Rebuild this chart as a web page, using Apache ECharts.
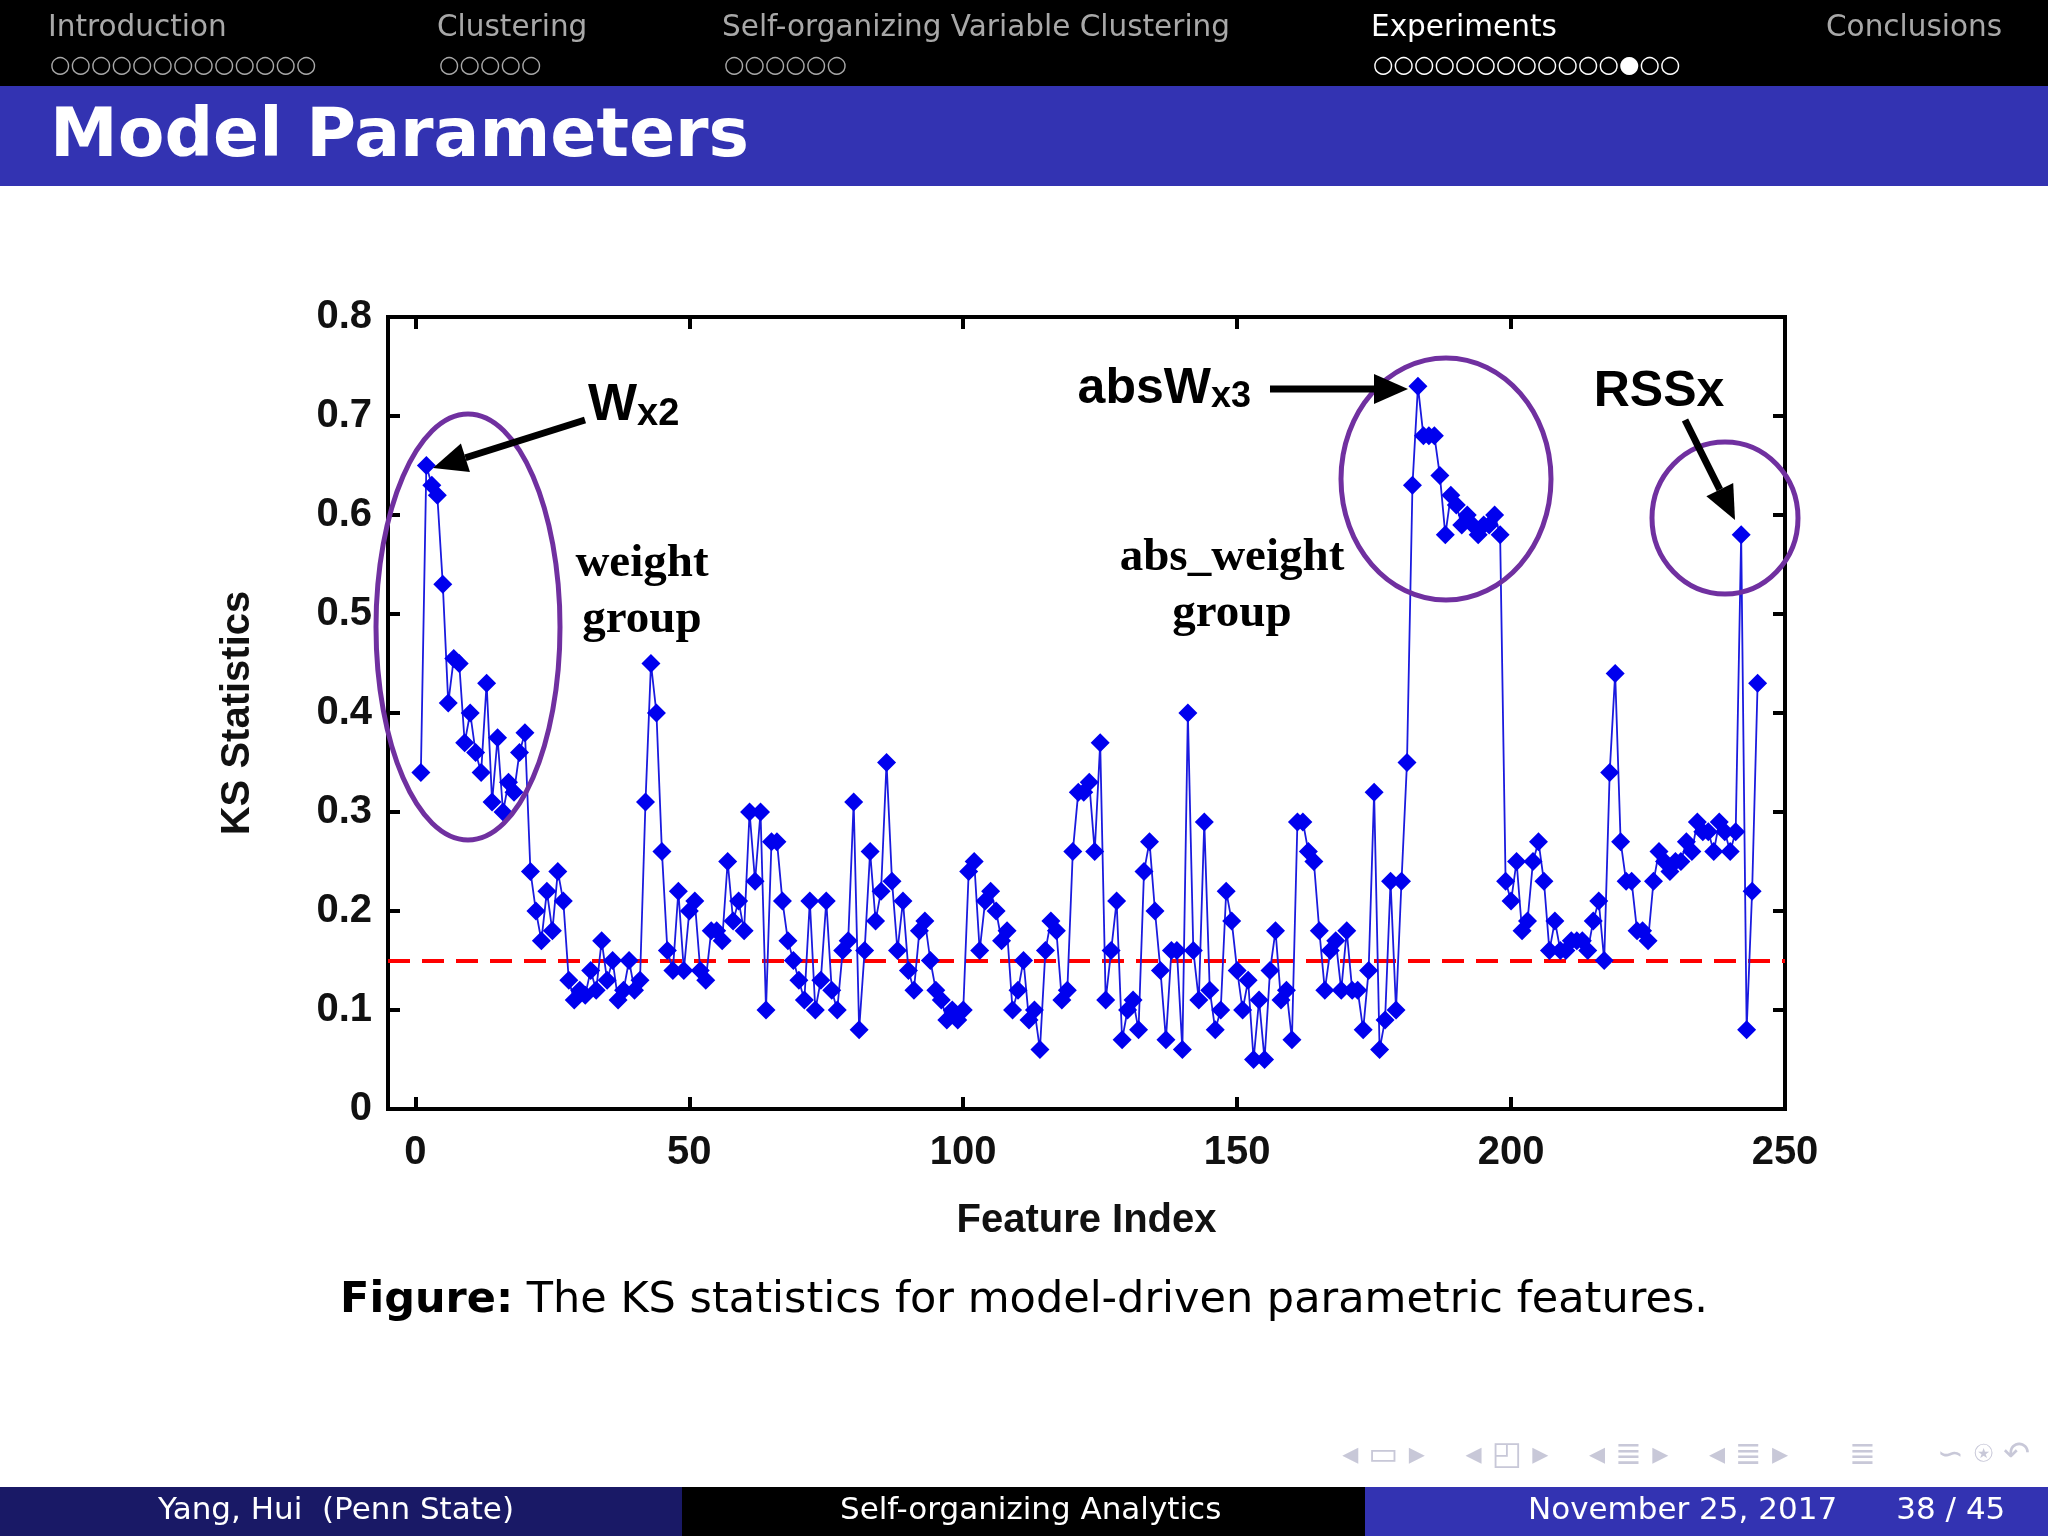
<!DOCTYPE html>
<html>
<head>
<meta charset="utf-8">
<script src="https://cdn.jsdelivr.net/npm/echarts@6/dist/echarts.min.js"></script>
<style>html,body{margin:0;padding:0;background:#fff}#main{width:2048px;height:1536px}</style>
</head>
<body>
<div id="main"></div>
<script>
// KS statistic per feature (index 1..245)
var ksValues = [
  0.34,0.65,0.63,0.62,0.53,0.41,0.455,0.45,0.37,0.40,
  0.36,0.34,0.43,0.31,0.375,0.30,0.33,0.32,0.36,0.38,
  0.24,0.20,0.17,0.22,0.18,0.24,0.21,0.13,0.11,0.12,
  0.115,0.14,0.12,0.17,0.13,0.15,0.11,0.12,0.15,0.12,
  0.13,0.31,0.45,0.40,0.26,0.16,0.14,0.22,0.14,0.20,
  0.21,0.14,0.13,0.18,0.18,0.17,0.25,0.19,0.21,0.18,
  0.30,0.23,0.30,0.10,0.27,0.27,0.21,0.17,0.15,0.13,
  0.11,0.21,0.10,0.13,0.21,0.12,0.10,0.16,0.17,0.31,
  0.08,0.16,0.26,0.19,0.22,0.35,0.23,0.16,0.21,0.14,
  0.12,0.18,0.19,0.15,0.12,0.11,0.09,0.10,0.09,0.10,
  0.24,0.25,0.16,0.21,0.22,0.20,0.17,0.18,0.10,0.12,
  0.15,0.09,0.10,0.06,0.16,0.19,0.18,0.11,0.12,0.26,
  0.32,0.32,0.33,0.26,0.37,0.11,0.16,0.21,0.07,0.10,
  0.11,0.08,0.24,0.27,0.20,0.14,0.07,0.16,0.16,0.06,
  0.40,0.16,0.11,0.29,0.12,0.08,0.10,0.22,0.19,0.14,
  0.10,0.13,0.05,0.11,0.05,0.14,0.18,0.11,0.12,0.07,
  0.29,0.29,0.26,0.25,0.18,0.12,0.16,0.17,0.12,0.18,
  0.12,0.12,0.08,0.14,0.32,0.06,0.09,0.23,0.10,0.23,
  0.35,0.63,0.73,0.68,0.68,0.68,0.64,0.58,0.62,0.61,
  0.59,0.60,0.59,0.58,0.59,0.59,0.60,0.58,0.23,0.21,
  0.25,0.18,0.19,0.25,0.27,0.23,0.16,0.19,0.16,0.16,
  0.17,0.17,0.17,0.16,0.19,0.21,0.15,0.34,0.44,0.27,
  0.23,0.23,0.18,0.18,0.17,0.23,0.26,0.25,0.24,0.25,
  0.25,0.27,0.26,0.29,0.28,0.28,0.26,0.29,0.28,0.26,
  0.28,0.58,0.08,0.22,0.43
];
var threshold = 0.155;
var xTicks = [0, 50, 100, 150, 200, 250];
var navSections = ['Introduction', 'Clustering', 'Self-organizing Variable Clustering', 'Experiments', 'Conclusions'];
var navDots = ['○○○○○○○○○○○○○', '○○○○○', '○○○○○○', '○○○○○○○○○○○○●○○', ''];
var navX = [48, 437, 722, 1371, 1826];

var points = ksValues.map(function (v, i) { return [i + 1, v]; });

var chart = echarts.init(document.getElementById('main'));

var axisFont = { fontFamily: 'Liberation Sans', fontWeight: 'bold', fontSize: 40, color: '#111' };
var tickStyle = { inside: true, length: 12, lineStyle: { width: 4, color: '#000' } };

function arrow(x1, y1, x2, y2) {
  var a = Math.atan2(y2 - y1, x2 - x1), L = 34, W = 15;
  var bx = x2 - L * Math.cos(a), by = y2 - L * Math.sin(a);
  return [
    { type: 'line', shape: { x1: x1, y1: y1, x2: bx, y2: by }, style: { stroke: '#000', lineWidth: 7 }, z: 20 },
    { type: 'polygon', shape: { points: [[x2, y2], [bx - W * Math.sin(a), by + W * Math.cos(a)], [bx + W * Math.sin(a), by - W * Math.cos(a)]] }, style: { fill: '#000' }, z: 20 }
  ];
}
function ellipse(cx, cy, rx, ry) {
  return { type: 'ellipse', shape: { cx: cx, cy: cy, rx: rx, ry: ry }, style: { fill: null, stroke: '#7030a0', lineWidth: 5 }, z: 19 };
}

var graphics = [
  { type: 'rect', shape: { x: 0, y: 0, width: 2048, height: 86 }, style: { fill: '#000' } },
  { type: 'rect', shape: { x: 0, y: 86, width: 2048, height: 100 }, style: { fill: '#3333b2' } },
  { type: 'text', x: 50, y: 138, style: { text: 'Model Parameters', font: 'bold 68px "DejaVu Sans"', fill: '#fff', verticalAlign: 'middle' } },
  { type: 'rect', shape: { x: 0, y: 1487, width: 682, height: 49 }, style: { fill: '#191966' } },
  { type: 'rect', shape: { x: 682, y: 1487, width: 683, height: 49 }, style: { fill: '#000' } },
  { type: 'rect', shape: { x: 1365, y: 1487, width: 683, height: 49 }, style: { fill: '#3333b2' } },
  { type: 'text', x: 158, y: 1511, style: { text: 'Yang, Hui  (Penn State)', font: '31px "DejaVu Sans"', fill: '#fff', verticalAlign: 'middle' } },
  { type: 'text', x: 840, y: 1511, style: { text: 'Self-organizing Analytics', font: '31px "DejaVu Sans"', fill: '#fff', verticalAlign: 'middle' } },
  { type: 'text', x: 1528, y: 1511, style: { text: 'November 25, 2017      38 / 45', font: '31px "DejaVu Sans"', fill: '#fff', verticalAlign: 'middle' } },
  { type: 'text', x: 1024, y: 1301, style: { text: '{b|Figure:} The KS statistics for model-driven parametric features.', font: '43px "DejaVu Sans"', fill: '#000', align: 'center', verticalAlign: 'middle', rich: { b: { font: 'bold 43px "DejaVu Sans"', fill: '#000' } } } },
  { type: 'text', x: 2030, y: 1456, style: { text: '◂ ▭ ▸    ◂ ◰ ▸    ◂ ≣ ▸    ◂ ≣ ▸      ≣      ∽ ⍟ ↶', font: '32px "DejaVu Sans"', fill: '#c8c8d8', align: 'right', verticalAlign: 'middle' } },
  // annotations
  ellipse(468, 627, 92, 213), ellipse(1446, 479, 105, 121), ellipse(1725, 518, 73, 76),
  { type: 'text', x: 588, y: 406, style: { text: 'W{s|x2}', font: 'bold 52px "Liberation Sans"', fill: '#000', verticalAlign: 'middle', rich: { s: { font: 'bold 38px "Liberation Sans"', fill: '#000', padding: [18, 0, 0, 0] } } }, z: 21 },
  { type: 'text', x: 1251, y: 389, style: { text: 'absW{s|x3}', font: 'bold 50px "Liberation Sans"', fill: '#000', align: 'right', verticalAlign: 'middle', rich: { s: { font: 'bold 36px "Liberation Sans"', fill: '#000', padding: [16, 0, 0, 0] } } }, z: 21 },
  { type: 'text', x: 1659, y: 392, style: { text: 'RSSx', font: 'bold 50px "Liberation Sans"', fill: '#000', align: 'center', verticalAlign: 'middle' }, z: 21 },
  { type: 'text', x: 642, y: 592, style: { text: 'weight\ngroup', font: 'bold 47px "Liberation Serif"', fill: '#000', align: 'center', verticalAlign: 'middle', lineHeight: 56 }, z: 21 },
  { type: 'text', x: 1232, y: 586, style: { text: 'abs_weight\ngroup', font: 'bold 47px "Liberation Serif"', fill: '#000', align: 'center', verticalAlign: 'middle', lineHeight: 56 }, z: 21 }
].concat(arrow(585, 420, 433, 468), arrow(1270, 389, 1408, 389), arrow(1685, 420, 1735, 520));

navSections.forEach(function (s, i) {
  graphics.push({ type: 'text', x: navX[i], y: 28, style: { text: s, font: '29.5px "DejaVu Sans"', fill: i === 3 ? '#fff' : '#a8a8a8', verticalAlign: 'middle' } });
  if (navDots[i]) graphics.push({ type: 'text', x: navX[i] + 2, y: 66, style: { text: navDots[i], font: '23.5px "DejaVu Sans"', fill: i === 3 ? '#fff' : '#a8a8a8', verticalAlign: 'middle' } });
});

var option = {
  backgroundColor: '#fff',
  animation: false,
  graphic: graphics,
  grid: { left: 388, right: 263, top: 317, bottom: 427, show: true, borderColor: '#000', borderWidth: 4, backgroundColor: 'transparent' },
  xAxis: [{
    type: 'value', min: -5, max: 250, interval: 50,
    name: 'Feature Index', nameLocation: 'middle', nameGap: 92,
    nameTextStyle: { fontFamily: 'Liberation Sans', fontWeight: 'bold', fontSize: 40, color: '#111' },
    axisLine: { show: false, onZero: false }, splitLine: { show: false },
    axisTick: Object.assign({ customValues: xTicks }, tickStyle),
    axisLabel: Object.assign({ margin: 24, customValues: xTicks }, axisFont)
  }, {
    type: 'value', position: 'top', min: -5, max: 250, interval: 50,
    axisLine: { show: false, onZero: false }, splitLine: { show: false }, axisLabel: { show: false },
    axisTick: Object.assign({ customValues: xTicks }, tickStyle)
  }],
  yAxis: [{
    type: 'value', min: 0, max: 0.8, interval: 0.1,
    name: 'KS Statistics', nameLocation: 'middle', nameGap: 130, nameRotate: 90,
    nameTextStyle: { fontFamily: 'Liberation Sans', fontWeight: 'bold', fontSize: 40, color: '#111' },
    axisLine: { show: false, onZero: false }, splitLine: { show: false },
    axisTick: tickStyle,
    axisLabel: Object.assign({ margin: 16, formatter: function (v) { return v === 0 ? '0' : v.toFixed(1); } }, axisFont)
  }, {
    type: 'value', position: 'right', min: 0, max: 0.8, interval: 0.1,
    axisLine: { show: false, onZero: false }, splitLine: { show: false }, axisLabel: { show: false },
    axisTick: tickStyle
  }],
  series: [{
    type: 'line', data: points, symbol: 'diamond', symbolSize: 19,
    itemStyle: { color: '#0000ee' }, lineStyle: { color: '#1a1adf', width: 1.8 },
    markLine: {
      silent: true, symbol: 'none', label: { show: false },
      lineStyle: { color: '#ff0000', type: [22, 12], width: 4 },
      data: [{ yAxis: threshold }]
    },
    z: 5
  }]
};
chart.setOption(option);
</script>
</body>
</html>
